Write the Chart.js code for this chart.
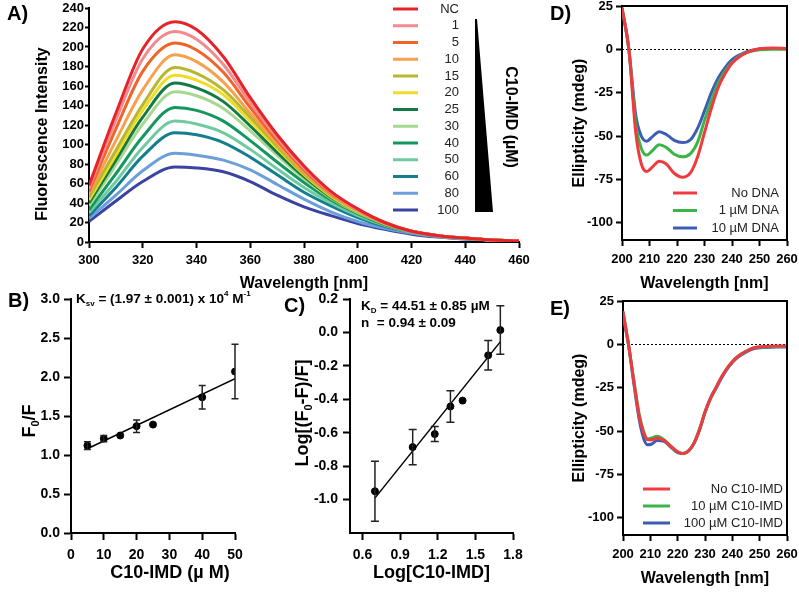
<!DOCTYPE html>
<html>
<head>
<meta charset="utf-8">
<script src="https://cdn.jsdelivr.net/npm/chart.js@4.4.0/dist/chart.umd.min.js"></script>
<style>
  html, body { margin: 0; padding: 0; background: #fff; }
  #page { position: relative; width: 799px; height: 603px; overflow: hidden; }
  canvas { position: absolute; }
</style>
</head>
<body>
<div id="page">
  <canvas id="chartA" width="540" height="300" style="left:0;top:0"></canvas>
  <canvas id="chartB" width="262" height="338" style="left:0;top:260px"></canvas>
  <canvas id="chartC" width="270" height="338" style="left:262px;top:260px"></canvas>
  <canvas id="chartD" width="259" height="300" style="left:540px;top:0"></canvas>
  <canvas id="chartE" width="259" height="303" style="left:540px;top:295px"></canvas>
</div>
<script>
const FONT = "'Liberation Sans', Arial, sans-serif";
Chart.defaults.font.family = FONT;
Chart.defaults.color = "#000";

// ---- A) fluorescence spectra ----
const wavelengthA = [300, 310, 320, 332, 340, 350, 360, 370, 380, 390, 400, 410, 420, 430, 440, 450, 460];
const concLabels = ["NC", "1", "5", "10", "15", "20", "25", "30", "40", "50", "60", "80", "100"];
const fluorNC  = [58, 132, 198, 226, 218, 190, 148, 110, 78, 52, 34, 20, 11, 6.5, 4, 2, 1];
const fluor1   = [55, 125, 188, 216, 208, 182, 143, 107, 76, 51, 33, 20, 11, 6.5, 4, 2, 1];
const fluor5   = [52, 116, 175, 204, 197, 174, 138, 104, 74, 50, 33, 20, 11, 6.5, 4, 2, 1];
const fluor10  = [49, 104, 156, 192, 185, 164, 132, 101, 72, 49, 32, 19, 11, 6.5, 4, 2, 1];
const fluor15  = [46, 94, 141, 179, 173, 156, 128, 98, 70, 48, 32, 19, 11, 6.5, 4, 2, 1];
const fluor20  = [43, 89, 135, 171, 166, 151, 124, 96, 69, 47, 31, 19, 11, 6.5, 4, 2, 1];
const fluor25  = [40, 84, 128, 163, 158, 144, 119, 92, 67, 46, 31, 19, 11, 6.5, 4, 2, 1];
const fluor30  = [37, 79, 121, 154, 150, 137, 114, 89, 65, 45, 30, 19, 11, 6.5, 4, 2, 1];
const fluor40  = [33, 70, 108, 138, 135, 124, 104, 82, 61, 43, 29, 18, 11, 6.5, 4, 2, 1];
const fluor50  = [30, 62, 97, 124, 121, 112, 95, 75, 56, 40, 27, 17, 10, 6, 3.5, 2, 1];
const fluor60  = [27, 56, 88, 112, 110, 102, 87, 69, 51, 37, 25, 16, 10, 6, 3.5, 2, 1];
const fluor80  = [24, 48, 73, 91, 89, 84, 74, 59, 44, 31, 21, 14, 9, 5.5, 3, 2, 1];
const fluor100 = [21, 42, 62, 77, 76, 72, 62, 48, 36, 27, 19, 13, 8, 5, 3, 2, 1];
const fluorSeries = [fluorNC, fluor1, fluor5, fluor10, fluor15, fluor20, fluor25,
                     fluor30, fluor40, fluor50, fluor60, fluor80, fluor100];
const fluorColors = ["#e5242a", "#f28a8f", "#f06428", "#f7a04e", "#b8b830", "#efdc26", "#137a43",
                     "#a6d88f", "#14975f", "#6fcb9f", "#137e8f", "#6b9edb", "#3a44a0"];
const ticksA_y = [0, 20, 40, 60, 80, 100, 120, 140, 160, 180, 200, 220, 240];

// ---- B) Stern-Volmer ----
const concB = [5, 10, 15, 20, 25, 40, 50];
const f0fB = [1.12, 1.21, 1.25, 1.37, 1.39, 1.74, 2.07];
const f0fErrB = [0.05, 0.04, 0, 0.08, 0, 0.15, 0.35];
const fitBx = [5, 50];
const fitBy = [1.08, 1.98];

// ---- C) double log ----
const logConcC = [0.699, 1.0, 1.176, 1.301, 1.398, 1.602, 1.699];
const logRatioC = [-0.95, -0.686, -0.608, -0.443, -0.408, -0.137, 0.014];
const logRatioErrC = [0.18, 0.105, 0.045, 0.094, 0, 0.088, 0.145];
const fitCx = [0.7, 1.7];
const fitCy = [-0.99, -0.055];
const ticksC_x = [0.6, 0.9, 1.2, 1.5, 1.8];
const ticksC_y = [-1.0, -0.8, -0.6, -0.4, -0.2, 0.0, 0.2];

// ---- D) CD with DNA ----
const wavelengthD = [200, 202.5, 205, 207, 209, 211, 213.5, 216, 219, 222, 225, 227.5, 230, 232.5, 235, 237.5, 240, 243, 246, 250, 255, 260];
const cdNoDNA  = [24, 0, -48, -66, -70.5, -68, -64.5, -66, -71.5, -73.8, -71, -62, -48, -34, -22, -14, -8, -4, -1.5, 0.3, 0.8, 0.5];
const cdDNA1   = [24, 0, -43, -57, -61, -58.5, -55, -56.5, -60.5, -62, -60, -53.5, -41, -29.5, -19.5, -12.5, -7.5, -3.5, -1.5, -0.3, 0, 0];
const cdDNA10  = [24, 0, -38, -50, -53, -50.5, -47.5, -49, -52.5, -53.8, -52, -45.5, -35.5, -25, -16.5, -10.5, -6, -3, -1, 0.2, 0.5, 0.3];
const labelsD = ["No DNA", "1 \u00b5M DNA", "10 \u00b5M DNA"];

// ---- E) CD with C10-IMD ----
const wavelengthE = [200, 202, 204, 206, 207.5, 209, 210.5, 212.5, 215, 218, 220, 222, 224, 226, 228, 230, 232, 234, 236, 238, 240, 242, 245, 248, 252, 256, 260];
const cdNoImd   = [19, 0, -22, -42, -51, -55, -55, -54, -55.5, -59.5, -62, -63, -61.5, -57, -49, -39, -31, -25, -19, -14, -10, -7, -4, -2, -1.2, -1, -1];
const cdImd10   = [19, 0, -21, -41, -50, -54.5, -54, -53, -55, -59.5, -62, -63, -61.5, -57, -49, -39, -31, -25, -19, -14, -10, -7, -4, -2, -1.5, -1.2, -1.2];
const cdImd100  = [16, 0, -23, -44, -54, -58, -57.5, -55.5, -56, -60, -62.5, -63, -61.5, -57, -49.5, -39.5, -31.5, -25.5, -19.5, -14.5, -10.5, -7.5, -4.5, -2.5, -1.8, -1.5, -1.5];
const labelsE = ["No C10-IMD", "10 \u00b5M C10-IMD", "100 \u00b5M C10-IMD"];

const ticksCD_y = [-100, -75, -50, -25, 0, 25];
const cdColors = ["#ef3b3f", "#3bb54a", "#3d5db5"];

// ---- helpers ----
function axis(tickLen) {
  return {
    border: { display: true, color: "#000", width: 2 },
    grid: { display: true, drawOnChartArea: false, drawTicks: true, tickLength: tickLen, tickWidth: 2, tickColor: "#000" },
  };
}
function fixSize(w, h) {
  return (s) => {
    if (w != null) s.width = w;
    if (h != null) s.height = h;
    s.paddingTop = s.paddingBottom = s.paddingLeft = s.paddingRight = 0;
  };
}
function setTicks(list) {
  return (s) => { s.ticks = list.map((v) => ({ value: v })); };
}
function overlay(draw) {
  return {
    id: "overlay",
    afterDraw(chart) {
      const ctx = chart.ctx;
      ctx.save();
      draw(ctx, chart);
      ctx.restore();
    },
  };
}
function panelLabel(ctx, text, x, y) {
  ctx.font = "bold 20px " + FONT;
  ctx.fillStyle = "#000";
  ctx.textAlign = "left";
  ctx.textBaseline = "middle";
  ctx.fillText(text, x, y);
}
// parts: [text, mode] where mode 0 = normal, 1 = subscript, 2 = superscript
function richText(ctx, parts, x, y, size, align, rotate) {
  const fontFor = (m) => "bold " + (m ? Math.round(size * 0.62) : size) + "px " + FONT;
  let total = 0;
  parts.forEach(([t, m]) => { ctx.font = fontFor(m); total += ctx.measureText(t).width; });
  ctx.save();
  ctx.translate(x, y);
  if (rotate) ctx.rotate(rotate);
  let cx = align === "center" ? -total / 2 : 0;
  ctx.textBaseline = "middle";
  ctx.textAlign = "left";
  ctx.fillStyle = "#000";
  parts.forEach(([t, m]) => {
    ctx.font = fontFor(m);
    const dy = m === 1 ? size * 0.32 : m === 2 ? -size * 0.35 : 0;
    ctx.fillText(t, cx, dy);
    cx += ctx.measureText(t).width;
  });
  ctx.restore();
}
function lineLegend(ctx, chart, x0, x1, textRight, y0, step) {
  chart.data.datasets.forEach((ds, i) => {
    const y = y0 + i * step;
    ctx.strokeStyle = ds.borderColor;
    ctx.lineWidth = 3;
    ctx.beginPath();
    ctx.moveTo(x0, y);
    ctx.lineTo(x1, y);
    ctx.stroke();
    ctx.fillStyle = "#222";
    ctx.font = "13px " + FONT;
    ctx.textAlign = "right";
    ctx.textBaseline = "middle";
    ctx.fillText(ds.label, textRight, y);
  });
}
function errorBars(xs, ys, errs, cap) {
  return {
    id: "errorBars",
    afterDatasetsDraw(chart) {
      const { ctx, scales: { x, y } } = chart;
      ctx.save();
      ctx.strokeStyle = "#222";
      ctx.lineWidth = 1.5;
      xs.forEach((xv, i) => {
        if (!errs[i]) return;
        const px = x.getPixelForValue(xv);
        const top = y.getPixelForValue(ys[i] + errs[i]);
        const bot = y.getPixelForValue(ys[i] - errs[i]);
        ctx.beginPath();
        ctx.moveTo(px, top); ctx.lineTo(px, bot);
        ctx.moveTo(px - cap, top); ctx.lineTo(px + cap, top);
        ctx.moveTo(px - cap, bot); ctx.lineTo(px + cap, bot);
        ctx.stroke();
      });
      ctx.restore();
    },
  };
}
const cdFrame = {
  id: "cdFrame",
  beforeDatasetsDraw(chart) {
    const { ctx, chartArea: a, scales: { y } } = chart;
    const y0 = Math.round(y.getPixelForValue(0)) + 0.5;
    ctx.save();
    ctx.strokeStyle = "#000";
    ctx.lineWidth = 1;
    ctx.setLineDash([2, 2]);
    ctx.beginPath();
    ctx.moveTo(a.left, y0);
    ctx.lineTo(a.right, y0);
    ctx.stroke();
    ctx.restore();
  },
  afterDraw(chart) {
    const { ctx, chartArea: a } = chart;
    ctx.save();
    ctx.strokeStyle = "#000";
    ctx.lineWidth = 2;
    ctx.beginPath();
    ctx.moveTo(a.left - 1, a.top);
    ctx.lineTo(a.right, a.top);
    ctx.lineTo(a.right, a.bottom + 1);
    ctx.stroke();
    ctx.restore();
  },
};
const tickFont = (size) => ({ size: size, weight: "bold" });
const baseOpts = {
  responsive: false,
  animation: false,
  plugins: { legend: { display: false }, tooltip: { enabled: false } },
};

// ---- A ----
new Chart(document.getElementById("chartA"), {
  type: "line",
  data: {
    datasets: fluorSeries.map((vals, i) => ({
      label: concLabels[i],
      data: wavelengthA.map((w, j) => ({ x: w, y: vals[j] })),
      borderColor: fluorColors[i],
      borderWidth: 3,
      pointRadius: 0,
      cubicInterpolationMode: "monotone",
      fill: false,
    })),
  },
  options: {
    ...baseOpts,
    layout: { padding: { left: 0, top: 8, right: 21, bottom: 0 } },
    scales: {
      x: {
        type: "linear", min: 300, max: 460, ...axis(6),
        ticks: { stepSize: 20, autoSkip: false, maxRotation: 0, padding: 5, font: tickFont(13) },
        title: { display: true, text: "Wavelength [nm]", font: { size: 16, weight: "bold" }, padding: { top: 0, bottom: 7 } },
        afterFit: fixSize(null, 58),
      },
      y: {
        min: 0, max: 240, ...axis(4),
        afterBuildTicks: setTicks(ticksA_y),
        ticks: { padding: 1, font: tickFont(13) },
        afterFit: fixSize(89, null),
      },
    },
  },
  plugins: [overlay((ctx, chart) => {
    panelLabel(ctx, "A)", 7, 14);
    richText(ctx, [["Fluorescence Intensity", 0]], 43, 134, 16, "center", -Math.PI / 2);
    // legend
    chart.data.datasets.forEach((ds, i) => {
      const y = 9 + i * 16.75;
      ctx.strokeStyle = ds.borderColor;
      ctx.lineWidth = 3;
      ctx.beginPath();
      ctx.moveTo(393, y);
      ctx.lineTo(418, y);
      ctx.stroke();
      ctx.fillStyle = "#222";
      ctx.font = "13px " + FONT;
      ctx.textAlign = "right";
      ctx.textBaseline = "middle";
      ctx.fillText(ds.label, 459, y);
    });
    // concentration wedge
    ctx.fillStyle = "#000";
    ctx.beginPath();
    ctx.moveTo(475, 19);
    ctx.lineTo(477, 19);
    ctx.lineTo(493, 212);
    ctx.lineTo(475, 212);
    ctx.closePath();
    ctx.fill();
    richText(ctx, [["C10-IMD (\u00b5M)", 0]], 510, 117, 16, "center", Math.PI / 2);
  })],
});

// ---- B ----
new Chart(document.getElementById("chartB"), {
  type: "scatter",
  data: {
    datasets: [
      {
        label: "F0/F",
        data: concB.map((c, i) => ({ x: c, y: f0fB[i] })),
        backgroundColor: "#000", borderColor: "#000",
        pointRadius: 3.5,
      },
      {
        label: "fit",
        type: "line",
        data: fitBx.map((c, i) => ({ x: c, y: fitBy[i] })),
        borderColor: "#000", borderWidth: 1.5, pointRadius: 0,
      },
    ],
  },
  options: {
    ...baseOpts,
    layout: { padding: { left: 0, top: 39, right: 27, bottom: 0 } },
    scales: {
      x: {
        type: "linear", min: 0, max: 50, ...axis(7),
        ticks: { stepSize: 10, autoSkip: false, maxRotation: 0, padding: 7, font: tickFont(14) },
        afterFit: fixSize(null, 65),
      },
      y: {
        min: 0, max: 3, ...axis(7),
        ticks: { stepSize: 0.5, padding: 4, font: tickFont(14), callback: (v) => v.toFixed(1) },
        afterFit: fixSize(71, null),
      },
    },
  },
  plugins: [errorBars(concB, f0fB, f0fErrB, 3.5), overlay((ctx) => {
    panelLabel(ctx, "B)", 8, 41);
    richText(ctx, [["F", 0], ["0", 1], ["/F", 0]], 30, 161, 18, "center", -Math.PI / 2);
    richText(ctx, [["C10-IMD (\u00b5 M)", 0]], 170, 313, 18, "center");
    richText(ctx, [["K", 0], ["sv", 1], [" = (1.97 \u00b1 0.001) x 10", 0], ["4", 2], [" M", 0], ["-1", 2]], 76, 39, 13.5, "left");
  })],
});

// ---- C ----
new Chart(document.getElementById("chartC"), {
  type: "scatter",
  data: {
    datasets: [
      {
        label: "log",
        data: logConcC.map((c, i) => ({ x: c, y: logRatioC[i] })),
        backgroundColor: "#000", borderColor: "#000",
        pointRadius: 3.5,
      },
      {
        label: "fit",
        type: "line",
        data: fitCx.map((c, i) => ({ x: c, y: fitCy[i] })),
        borderColor: "#000", borderWidth: 1.5, pointRadius: 0,
      },
    ],
  },
  options: {
    ...baseOpts,
    layout: { padding: { left: 0, top: 39, right: 19, bottom: 0 } },
    scales: {
      x: {
        type: "linear", min: 0.5, max: 1.8, ...axis(7),
        afterBuildTicks: setTicks(ticksC_x),
        ticks: { autoSkip: false, maxRotation: 0, padding: 7, font: tickFont(14), callback: (v) => v.toFixed(1) },
        title: { display: true, text: "Log[C10-IMD]", font: { size: 18, weight: "bold" }, padding: { top: 0, bottom: 14 } },
        afterFit: fixSize(null, 65),
      },
      y: {
        min: -1.2, max: 0.2, ...axis(7),
        afterBuildTicks: setTicks(ticksC_y),
        ticks: { padding: 5, font: tickFont(14), callback: (v) => v.toFixed(1) },
        afterFit: fixSize(88, null),
      },
    },
  },
  plugins: [errorBars(logConcC, logRatioC, logRatioErrC, 4), overlay((ctx) => {
    panelLabel(ctx, "C)", 22, 46);
    richText(ctx, [["Log[(F", 0], ["0", 1], ["-F)/F]", 0]], 41, 153, 18, "center", -Math.PI / 2);
    richText(ctx, [["K", 0], ["D", 1], [" = 44.51 \u00b1 0.85 \u00b5M", 0]], 99, 46, 13.5, "left");
    richText(ctx, [["n  = 0.94 \u00b1 0.09", 0]], 99, 63, 13.5, "left");
  })],
});

// ---- D & E ----
function cdChart(id, xs, series, labels, o) {
  return new Chart(document.getElementById(id), {
    type: "line",
    data: {
      datasets: series.map((vals, i) => ({
        label: labels[i],
        data: xs.map((w, j) => ({ x: w, y: vals[j] })),
        borderColor: cdColors[i],
        borderWidth: 3,
        pointRadius: 0,
        cubicInterpolationMode: "monotone",
        fill: false,
      })),
    },
    options: {
      ...baseOpts,
      layout: { padding: { left: 0, top: o.top, right: 12, bottom: 0 } },
      scales: {
        x: {
          type: "linear", min: 200, max: 260, ...axis(6),
          ticks: { stepSize: 10, autoSkip: false, maxRotation: 0, padding: o.xPad, font: tickFont(13) },
          title: { display: true, text: "Wavelength [nm]", font: { size: 16, weight: "bold" }, padding: { top: 0, bottom: o.titlePad } },
          afterFit: fixSize(null, o.xh),
        },
        y: {
          min: -110, max: 25, ...axis(6),
          afterBuildTicks: setTicks(ticksCD_y),
          ticks: { padding: 3, font: tickFont(13) },
          title: { display: true, text: "Ellipticity (mdeg)", font: { size: 16, weight: "bold" }, padding: { top: 30, bottom: 0 } },
          afterFit: fixSize(o.yw, null),
        },
      },
    },
    plugins: [cdFrame, overlay((ctx, chart) => {
      panelLabel(ctx, o.panel, 10, o.panelY);
      lineLegend(ctx, chart, o.lg[0], o.lg[1], o.lg[2], o.lg[3], o.lg[4]);
    })],
  });
}
cdChart("chartD", wavelengthD, [cdNoDNA, cdDNA1, cdDNA10], labelsD,
  { top: 6, xh: 60, yw: 82, xPad: 6, titlePad: 7, panel: "D)", panelY: 14, lg: [133, 157, 239, 193, 17.5] });
cdChart("chartE", wavelengthE, [cdNoImd, cdImd10, cdImd100], labelsE,
  { top: 6, xh: 63, yw: 83, xPad: 6, titlePad: 10, panel: "E)", panelY: 14, lg: [103, 130, 243, 194, 17] });
</script>
</body>
</html>
